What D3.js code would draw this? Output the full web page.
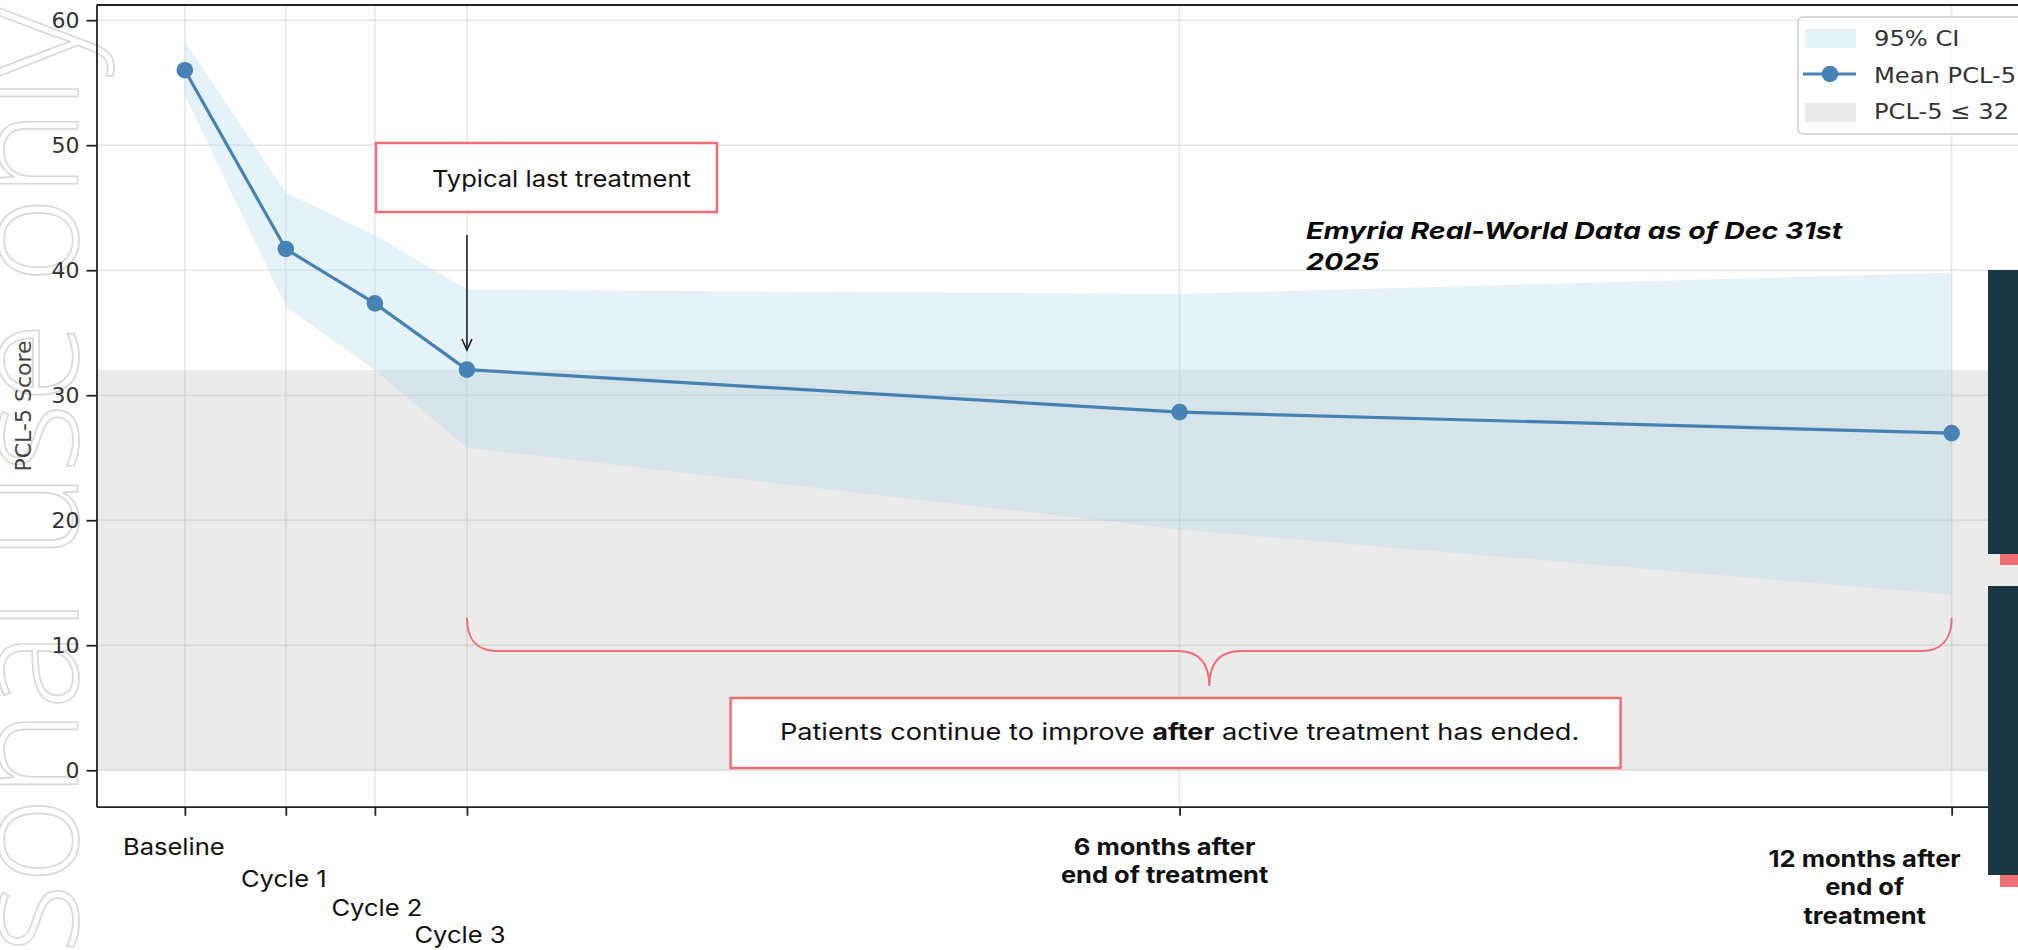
<!DOCTYPE html>
<html>
<head>
  <meta charset="utf-8">
  <title>PCL-5 Score over time</title>
  <script src="https://d3js.org/d3.v7.min.js"></script>
  <style>
    body { margin: 0; background: #fff; }
    svg { display: block; }
  </style>
</head>
<body>
<svg id="chart"></svg>
<script>
"use strict";

// timepoints, placed on a week scale
var timeLabels = ["Baseline", "Cycle 1", "Cycle 2", "Cycle 3",
                  "6 months after\nend of treatment",
                  "12 months after\nend of\ntreatment"];
var timeWeeks = [0, 3.4, 6.4, 9.5, 33.5, 59.5];
var meanScore = [56.0, 41.7, 37.35, 32.05, 28.65, 26.97];
var ciUpper   = [58.3, 46.2, 42.8, 38.45, 38.1, 39.8];
var ciLower   = [54.0, 37.1, 32.0, 25.8, 19.25, 14.05];
var yTicks = [0, 10, 20, 30, 40, 50, 60];
var threshold = 32;
var legendLabels = ["95% CI", "Mean PCL-5", "PCL-5 \u2264 32"];

var W = 2018, H = 950;
var plotL = 96.5, plotT = 5, plotR = 2040, plotB = 806.7;
var sans = "Inter, Lato, sans-serif";
var mpl = "'DejaVu Sans', sans-serif";
var red = "#f06e76", blue = "#4682b4";

var svg = d3.select("#chart").attr("width", W).attr("height", H);

// matplotlib style 5% margins
var xPad = 0.05 * (d3.max(timeWeeks) - d3.min(timeWeeks));
var x = d3.scaleLinear()
          .domain([d3.min(timeWeeks) - xPad, d3.max(timeWeeks) + xPad])
          .range([plotL, plotR]);
var yPad = 0.05 * (d3.max(ciUpper) - 0);
var y = d3.scaleLinear()
          .domain([0 - yPad, d3.max(ciUpper) + yPad])
          .range([plotB, plotT]);

// place a text with a horizontal stretch (the slide text is wider than tall)
function placed(sel, px, py, sx) {
  return sel.attr("transform", "translate(" + px + "," + py + ") scale(" + sx + ",1)");
}

// watermark down the left edge
svg.append("text")
   .attr("transform", "translate(78,8) rotate(-90)")
   .attr("text-anchor", "end")
   .style("font-family", "'Open Sans', sans-serif")
   .style("font-weight", 300)
   .style("font-size", "148px")
   .attr("fill", "none")
   .attr("stroke", "#d8d8d8")
   .attr("stroke-width", 1.7)
   .text("For personal use only");

// grid
var grid = svg.append("g");
grid.selectAll("line.h").data(yTicks).join("line").attr("class", "h")
    .attr("x1", plotL).attr("x2", plotR)
    .attr("y1", function(d) { return y(d); })
    .attr("y2", function(d) { return y(d); });
grid.selectAll("line.v").data(timeWeeks).join("line").attr("class", "v")
    .attr("y1", plotT).attr("y2", plotB)
    .attr("x1", function(d) { return x(d); })
    .attr("x2", function(d) { return x(d); });
grid.selectAll("line").attr("stroke", "#b0b0b0")
    .attr("stroke-opacity", 0.32).attr("stroke-width", 1.5);

// PCL-5 <= 32 band
svg.append("rect")
   .attr("x", plotL).attr("width", plotR - plotL)
   .attr("y", y(threshold)).attr("height", y(0) - y(threshold))
   .attr("fill", "#808080").attr("fill-opacity", 0.16);

// 95% CI
var idx = d3.range(timeWeeks.length);
var ciArea = d3.area()
               .x(function(i) { return x(timeWeeks[i]); })
               .y0(function(i) { return y(ciLower[i]); })
               .y1(function(i) { return y(ciUpper[i]); });
svg.append("path").datum(idx)
   .attr("d", ciArea)
   .attr("fill", "#add8e6").attr("fill-opacity", 0.32);

// mean line and markers
var meanLine = d3.line()
                 .x(function(i) { return x(timeWeeks[i]); })
                 .y(function(i) { return y(meanScore[i]); });
svg.append("path").datum(idx)
   .attr("d", meanLine)
   .attr("fill", "none").attr("stroke", blue).attr("stroke-width", 3.2);
svg.selectAll("circle.mean").data(idx).join("circle").attr("class", "mean")
   .attr("cx", function(i) { return x(timeWeeks[i]); })
   .attr("cy", function(i) { return y(meanScore[i]); })
   .attr("r", 8.3).attr("fill", blue);

// axes
var yAxis = svg.append("g")
               .attr("transform", "translate(" + plotL + ",0)")
               .call(d3.axisLeft(y).tickValues(yTicks)
                       .tickSize(10).tickSizeOuter(0).tickPadding(7));
yAxis.selectAll("text").style("font-family", mpl).style("font-size", "22px")
     .attr("fill", "#333");

var xAxis = svg.append("g")
               .attr("transform", "translate(0," + plotB + ")")
               .call(d3.axisBottom(x).tickValues(timeWeeks)
                       .tickSize(9).tickSizeOuter(0).tickFormat(""));
svg.selectAll(".domain, .tick line").attr("stroke", "#222").attr("stroke-width", 1.8);
svg.append("line")
   .attr("x1", plotL).attr("x2", plotR).attr("y1", plotT).attr("y2", plotT)
   .attr("stroke", "#222").attr("stroke-width", 1.8);

// staggered x labels
var labelShift = [-11, -2, 2, -7, -15, -87];
var labelTop = [855, 887, 916, 943, 855, 867];
timeLabels.forEach(function(lbl, i) {
  var t = placed(svg.append("text"), x(timeWeeks[i]) + labelShift[i], labelTop[i], 1.11)
           .attr("text-anchor", "middle")
           .style("font-family", sans)
           .style("font-size", "23px")
           .style("font-weight", i >= 4 ? 700 : 400)
           .attr("fill", "#111");
  lbl.split("\n").forEach(function(line, k) {
    t.append("tspan").attr("x", 0).attr("y", k * 28.5).text(line);
  });
});

// y label
svg.append("text")
   .attr("transform", "translate(31,406) rotate(-90)")
   .attr("text-anchor", "middle")
   .style("font-family", mpl).style("font-size", "22px")
   .attr("fill", "#444")
   .text("PCL-5 Score");

// annotation: typical last treatment
var ax = x(timeWeeks[3]);
svg.append("rect")
   .attr("x", ax - 91).attr("y", 143).attr("width", 341).attr("height", 69)
   .attr("fill", "#fff").attr("stroke", red).attr("stroke-width", 2.5);
placed(svg.append("text"), ax - 35, 187, 1.11)
   .style("font-family", sans).style("font-size", "23px")
   .attr("fill", "#111")
   .text("Typical last treatment");
svg.append("line")
   .attr("x1", ax).attr("x2", ax).attr("y1", 235).attr("y2", 349)
   .attr("stroke", "#222").attr("stroke-width", 1.6);
svg.append("path")
   .attr("d", "M" + (ax - 5) + ",339 L" + ax + ",350 L" + (ax + 5) + ",339")
   .attr("fill", "none").attr("stroke", "#222").attr("stroke-width", 1.6);

// data source note
var note = placed(svg.append("text"), 1306, 239, 1.24)
              .style("font-family", sans).style("font-size", "23px")
              .style("font-weight", 700).style("font-style", "italic")
              .attr("fill", "#0a0a0a");
note.append("tspan").attr("x", 0).attr("y", 0).text("Emyria Real-World Data as of Dec 31st");
note.append("tspan").attr("x", 0).attr("y", 31).text("2025");

// brace from cycle 3 to 12 months
var b1 = x(timeWeeks[3]), b2 = x(timeWeeks[5]), bm = (b1 + b2) / 2;
var bEnd = 618, bMid = 651, bTip = 686;
var brace = "M" + b1 + "," + bEnd +
            " C" + b1 + "," + (bMid - 12) + " " + (b1 + 10) + "," + bMid + " " + (b1 + 30) + "," + bMid +
            " L" + (bm - 32) + "," + bMid +
            " C" + (bm - 10) + "," + bMid + " " + bm + "," + (bMid + 12) + " " + bm + "," + bTip +
            " C" + bm + "," + (bMid + 12) + " " + (bm + 10) + "," + bMid + " " + (bm + 32) + "," + bMid +
            " L" + (b2 - 30) + "," + bMid +
            " C" + (b2 - 10) + "," + bMid + " " + b2 + "," + (bMid - 12) + " " + b2 + "," + bEnd;
svg.append("path").attr("d", brace)
   .attr("fill", "none").attr("stroke", red).attr("stroke-width", 2);

// message box
var mx = x(timeWeeks[4]) - 4;
svg.append("rect")
   .attr("x", mx - 445).attr("y", 698).attr("width", 890).attr("height", 70)
   .attr("fill", "#fff").attr("stroke", red).attr("stroke-width", 2.5);
var msg = placed(svg.append("text"), mx + 4, 740, 1.18)
             .attr("text-anchor", "middle")
             .style("font-family", sans).style("font-size", "23px")
             .attr("fill", "#111");
msg.append("tspan").text("Patients continue to improve ");
msg.append("tspan").style("font-weight", 700).text("after");
msg.append("tspan").text(" active treatment has ended.");

// legend
var lg = svg.append("g").attr("transform", "translate(1798,17)");
lg.append("rect")
  .attr("width", 260).attr("height", 117).attr("rx", 5)
  .attr("fill", "#fff").attr("fill-opacity", 0.8)
  .attr("stroke", "#cccccc").attr("stroke-width", 1.5);
lg.append("rect").attr("x", 7).attr("y", 12).attr("width", 51).attr("height", 19)
  .attr("fill", "#add8e6").attr("fill-opacity", 0.32);
lg.append("line").attr("x1", 5).attr("x2", 58).attr("y1", 57).attr("y2", 57)
  .attr("stroke", blue).attr("stroke-width", 3.2);
lg.append("circle").attr("cx", 32).attr("cy", 57).attr("r", 8.3).attr("fill", blue);
lg.append("rect").attr("x", 7).attr("y", 86).attr("width", 51).attr("height", 19)
  .attr("fill", "#808080").attr("fill-opacity", 0.16);
lg.selectAll("text").data(legendLabels).join("text")
  .attr("transform", function(d, i) { return "translate(76," + (29 + i * 36.5) + ") scale(1.1,1)"; })
  .style("font-family", mpl).style("font-size", "22px")
  .attr("fill", "#333")
  .text(function(d) { return d; });

// slide decoration on the right edge
var deco = svg.append("g");
deco.append("rect").attr("x", 1988).attr("y", 270).attr("width", 40).attr("height", 284).attr("fill", "#1b3744");
deco.append("rect").attr("x", 1988).attr("y", 586).attr("width", 40).attr("height", 289).attr("fill", "#1b3744");
deco.append("rect").attr("x", 2000).attr("y", 554).attr("width", 30).attr("height", 11).attr("fill", red);
deco.append("rect").attr("x", 2000).attr("y", 875).attr("width", 30).attr("height", 12).attr("fill", red);
</script>
</body>
</html>
